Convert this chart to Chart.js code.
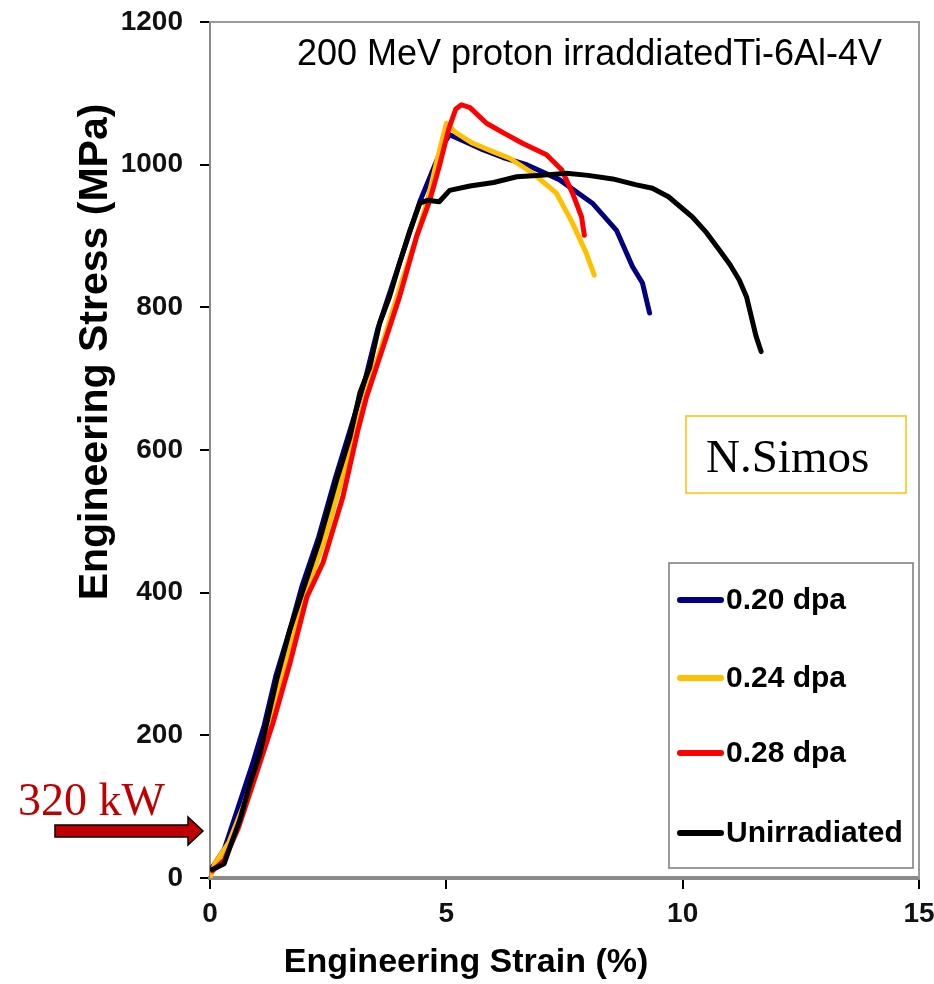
<!DOCTYPE html>
<html>
<head>
<meta charset="utf-8">
<script src="https://cdn.jsdelivr.net/npm/chart.js@4.4.1/dist/chart.umd.min.js"></script>
<style>
  html, body { margin: 0; padding: 0; background: #fff; }
  #wrap { width: 934px; height: 984px; position: relative; }
</style>
</head>
<body>
<div id="wrap"><canvas id="c" width="934" height="984"></canvas></div>
<script>
// ---- Data (strain %, stress MPa) ----
const seriesLabels = ['0.20 dpa', '0.24 dpa', '0.28 dpa', 'Unirradiated'];
const seriesColors = ['#000080', '#FFC000', '#FF0000', '#000000'];

const dpa020Strain = [0.05,0.3,0.6,0.9,1.15,1.4,1.7,1.95,2.3,2.65,2.95,3.25,3.55,3.85,4.2,4.45,4.7,4.95,5.07,5.4,5.77,6.2,6.7,7.39,8.09,8.6,8.94,9.15,9.3];
const dpa020Stress = [15,40,100,160,215,285,350,410,478,560,625,690,770,830,900,950,990,1030,1042,1032,1021,1010,1000,979,946,908,857,834,792];

const dpa024Strain = [0.0,0.1,0.4,0.7,1.0,1.3,1.6,2.0,2.4,2.75,3.05,3.35,3.7,4.05,4.35,4.6,4.8,4.95,5.0,5.2,5.56,6.0,6.34,6.83,7.33,7.67,7.96,8.13];
const dpa024Stress = [0,20,50,100,160,225,300,395,470,550,620,690,760,835,895,950,1005,1045,1058,1045,1030,1018,1009,988,960,918,876,845];

const dpa028Strain = [0.05,0.3,0.6,1.0,1.33,1.69,2.05,2.39,2.81,3.13,3.31,3.66,4.01,4.37,4.65,4.86,5.05,5.2,5.32,5.5,5.85,6.2,6.61,7.12,7.44,7.67,7.86,7.92];
const dpa028Stress = [10,25,70,150,217,301,394,442,534,628,674,744,815,899,950,1000,1050,1078,1084,1080,1058,1045,1030,1014,993,960,927,901];

const unirrStrain = [0.05,0.3,0.42,0.63,0.85,1.06,1.2,1.41,1.69,1.97,2.32,2.68,2.96,3.17,3.38,3.59,3.8,4.01,4.23,4.44,4.6,4.85,5.07,5.5,6.0,6.49,7.0,7.54,8.0,8.52,9.0,9.36,9.7,10.2,10.5,10.78,11.0,11.2,11.35,11.47,11.55,11.66];
const unirrStress = [12,20,43,81,133,175,217,278,348,404,474,558,618,680,716,778,815,862,908,946,950,948,964,970,975,983,985,988,985,980,972,967,955,927,905,880,860,838,815,782,760,738];

const xTicks = [0, 5, 10, 15];
const yTicks = [0, 200, 400, 600, 800, 1000, 1200];

const titleText = '200 MeV proton irraddiatedTi-6Al-4V';
const xTitle = 'Engineering Strain (%)';
const yTitle = 'Engineering Stress (MPa)';
const noteText = 'N.Simos';
const powerText = '320 kW';

function pts(xs, ys) { return xs.map((x, i) => ({ x: x, y: ys[i] })); }
const seriesData = [
  pts(dpa020Strain, dpa020Stress),
  pts(dpa024Strain, dpa024Stress),
  pts(dpa028Strain, dpa028Stress),
  pts(unirrStrain, unirrStress)
];
const drawOrder = [3, 2, 1, 0]; // black on top

const datasets = seriesLabels.map((lab, i) => ({
  label: lab,
  data: seriesData[i],
  borderColor: seriesColors[i],
  backgroundColor: seriesColors[i],
  borderWidth: 5,
  pointRadius: 0,
  showLine: true,
  tension: 0,
  borderJoinStyle: 'round',
  borderCapStyle: 'round',
  order: drawOrder[i]
}));

const overlay = {
  id: 'overlay',
  afterDraw(chart) {
    const ctx = chart.ctx;
    const a = chart.chartArea;
    ctx.save();
    // top and right frame
    ctx.strokeStyle = '#9a9a9a';
    ctx.lineWidth = 2;
    ctx.beginPath();
    ctx.moveTo(a.left, a.top);
    ctx.lineTo(a.right, a.top);
    ctx.lineTo(a.right, a.bottom);
    ctx.stroke();

    // title
    ctx.fillStyle = '#000';
    ctx.font = '36px "Liberation Sans", Arial, sans-serif';
    ctx.textAlign = 'left';
    ctx.textBaseline = 'alphabetic';
    ctx.fillText(titleText, 297, 65);

    // axis titles
    ctx.font = 'bold 34px "Liberation Sans", Arial, sans-serif';
    ctx.textAlign = 'center';
    ctx.textBaseline = 'middle';
    ctx.fillText(xTitle, 466, 963);
    ctx.save();
    ctx.translate(96, 352);
    ctx.rotate(-Math.PI / 2);
    ctx.font = 'bold 41px "Liberation Sans", Arial, sans-serif';
    ctx.fillText(yTitle, 0, 0);
    ctx.restore();

    // N.Simos box
    ctx.fillStyle = '#fff';
    ctx.fillRect(686, 416, 220, 77);
    ctx.strokeStyle = '#FFC000';
    ctx.lineWidth = 1.5;
    ctx.strokeRect(686, 416, 220, 77);
    ctx.fillStyle = '#000';
    ctx.font = '47px "Liberation Serif", "Times New Roman", serif';
    ctx.textAlign = 'left';
    ctx.textBaseline = 'alphabetic';
    ctx.fillText(noteText, 706, 472);

    // legend
    const lx = 669, ly = 563, lw = 244, lh = 305;
    ctx.fillStyle = '#fff';
    ctx.fillRect(lx, ly, lw, lh);
    ctx.strokeStyle = '#7a7a7a';
    ctx.lineWidth = 1.5;
    ctx.strokeRect(lx, ly, lw, lh);
    const rows = [600, 678, 753, 833];
    ctx.font = 'bold 30px "Liberation Sans", Arial, sans-serif';
    ctx.textBaseline = 'middle';
    chart.data.datasets.forEach((ds, i) => {
      const y = rows[i];
      ctx.strokeStyle = ds.borderColor;
      ctx.lineWidth = 6;
      ctx.lineCap = 'round';
      ctx.beginPath();
      ctx.moveTo(680, y);
      ctx.lineTo(721, y);
      ctx.stroke();
      ctx.fillStyle = '#000';
      ctx.fillText(ds.label, 726, y + 1);
    });

    // 320 kW annotation + arrow
    ctx.fillStyle = '#C00000';
    ctx.font = '46px "Liberation Serif", "Times New Roman", serif';
    ctx.textBaseline = 'alphabetic';
    ctx.fillText(powerText, 18, 815);
    ctx.beginPath();
    ctx.moveTo(55, 825);
    ctx.lineTo(188, 825);
    ctx.lineTo(188, 817);
    ctx.lineTo(203, 831);
    ctx.lineTo(188, 845);
    ctx.lineTo(188, 837);
    ctx.lineTo(55, 837);
    ctx.closePath();
    ctx.fillStyle = '#C00000';
    ctx.fill();
    ctx.strokeStyle = '#000';
    ctx.lineWidth = 1.5;
    ctx.lineCap = 'butt';
    ctx.stroke();
    ctx.restore();
  }
};

new Chart(document.getElementById('c'), {
  type: 'scatter',
  data: { datasets: datasets },
  options: {
    responsive: false,
    animation: false,
    devicePixelRatio: 1,
    layout: { padding: { left: 0, top: 22, right: 15, bottom: 0 } },
    plugins: { legend: { display: false }, tooltip: { enabled: false } },
    scales: {
      x: {
        type: 'linear',
        min: 0, max: 15,
        afterBuildTicks: s => { s.ticks = xTicks.map(v => ({ value: v })); },
        afterFit: s => { s.height = 106; s.paddingLeft = 0; s.paddingRight = 0; },
        grid: { drawOnChartArea: false, drawTicks: true, tickLength: 11, color: '#000', lineWidth: 2 },
        border: { display: true, color: '#8a8a8a', width: 4 },
        ticks: { color: '#111', font: { family: '"Liberation Sans", Arial, sans-serif', size: 28, weight: 'bold' }, padding: 8, maxRotation: 0, callback: v => String(v) }
      },
      y: {
        type: 'linear',
        min: 0, max: 1200,
        afterBuildTicks: s => { s.ticks = yTicks.map(v => ({ value: v })); },
        afterFit: s => { s.width = 210; s.paddingTop = 0; s.paddingBottom = 0; },
        grid: { drawOnChartArea: false, drawTicks: true, tickLength: 10, color: '#000', lineWidth: 2 },
        border: { display: true, color: '#8a8a8a', width: 2 },
        ticks: { color: '#111', font: { family: '"Liberation Sans", Arial, sans-serif', size: 28, weight: 'bold' }, padding: 17, callback: v => String(v) }
      }
    }
  },
  plugins: [overlay]
});
</script>
</body>
</html>
